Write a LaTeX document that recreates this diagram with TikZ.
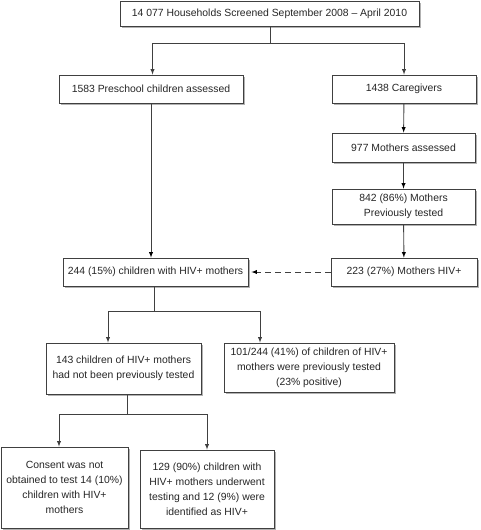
\documentclass[tikz,border=0pt]{standalone}
\usepackage{fontspec}
\setmainfont{Liberation Sans}
\usetikzlibrary{positioning}
\usetikzlibrary{calc}
\usetikzlibrary{arrows,shadows}

\tikzset{
  box/.style={draw=black!75, fill=white, line width=0.8pt, align=center, inner sep=2pt,
    text=black!85, font=\fontsize{10.4}{15}\selectfont,
    drop shadow={shadow xshift=1.5pt, shadow yshift=-1.5pt, fill=black!30, opacity=1}},
  link/.style={draw=black!75, line width=0.9pt}
}

\begin{document}
\begin{tikzpicture}[x=1pt,y=-1pt]
\useasboundingbox (0,0) rectangle (480,530);

\node[box, minimum width=299pt, minimum height=25pt](screen) at (269.5,13.5){14 077 Households Screened September 2008 -- April 2010};
\node[box, minimum width=184pt, minimum height=28pt](pre) at (151,89){1583 Preschool children assessed};
\node[box, minimum width=144pt, minimum height=28pt](care) at (404,89){1438 Caregivers};
\node[box, minimum width=143pt, minimum height=29pt](assess) at (403.5,147.5){977 Mothers assessed};
\node[box, minimum width=143pt, minimum height=35pt](prevm) at (403.5,206.5){842 (86\%) Mothers\\Previously tested};
\node[box, minimum width=146pt, minimum height=28pt](mhiv) at (404,272){223 (27\%) Mothers HIV+};
\node[box, minimum width=185pt, minimum height=28pt](chiv) at (155.5,272){244 (15\%) children with HIV+ mothers};
\node[box, minimum width=155pt, minimum height=51pt](notprev) at (123.5,368.5){143 children of HIV+ mothers\\had not been previously tested};
\node[box, minimum width=170pt, minimum height=49pt](wasprev) at (309,367.5){101/244 (41\%) of children of HIV+\\mothers were previously tested\\(23\% positive)};
\node[box, minimum width=127pt, minimum height=81pt](consent) at (64.5,487.5){Consent was not\\obtained to test 14 (10\%)\\children with HIV+\\mothers};
\node[box, minimum width=134pt, minimum height=78pt](tested) at (207,489){129 (90\%) children with\\HIV+ mothers underwent\\testing and 12 (9\%) were\\identified as HIV+};

\coordinate (split1) at (270.5,43);
\coordinate (split2) at (154,311);
\coordinate (split3) at (127,414);

\draw[link] (screen.south -| split1) -- (split1);
\draw[link,-latex] (split1) -| ([xshift=1.5pt]pre.north);
\draw[link,-latex] (split1) -| (care.north);

\path[link]
(care) edge[-latex]node{} (assess)
(assess) edge[-latex]node{} (prevm)
(prevm) edge[-latex]node{} (mhiv)
(pre.south) edge[-latex]node{} (pre.south |- chiv.north)
(mhiv) edge[-latex, dash pattern=on 6pt off 4pt, shorten >=3pt]node{} (chiv);

\draw[link] (chiv.south -| split2) -- (split2);
\draw[link,-latex] (split2) -| ([xshift=-15.5pt]notprev.north);
\draw[link,-latex] (split2) -| ([xshift=-49pt]wasprev.north);

\draw[link] (notprev.south -| split3) -- (split3);
\draw[link,-latex] (split3) -| ([xshift=-5.5pt]consent.north);
\draw[link,-latex] (split3) -| (tested.north);
\end{tikzpicture}
\end{document}
